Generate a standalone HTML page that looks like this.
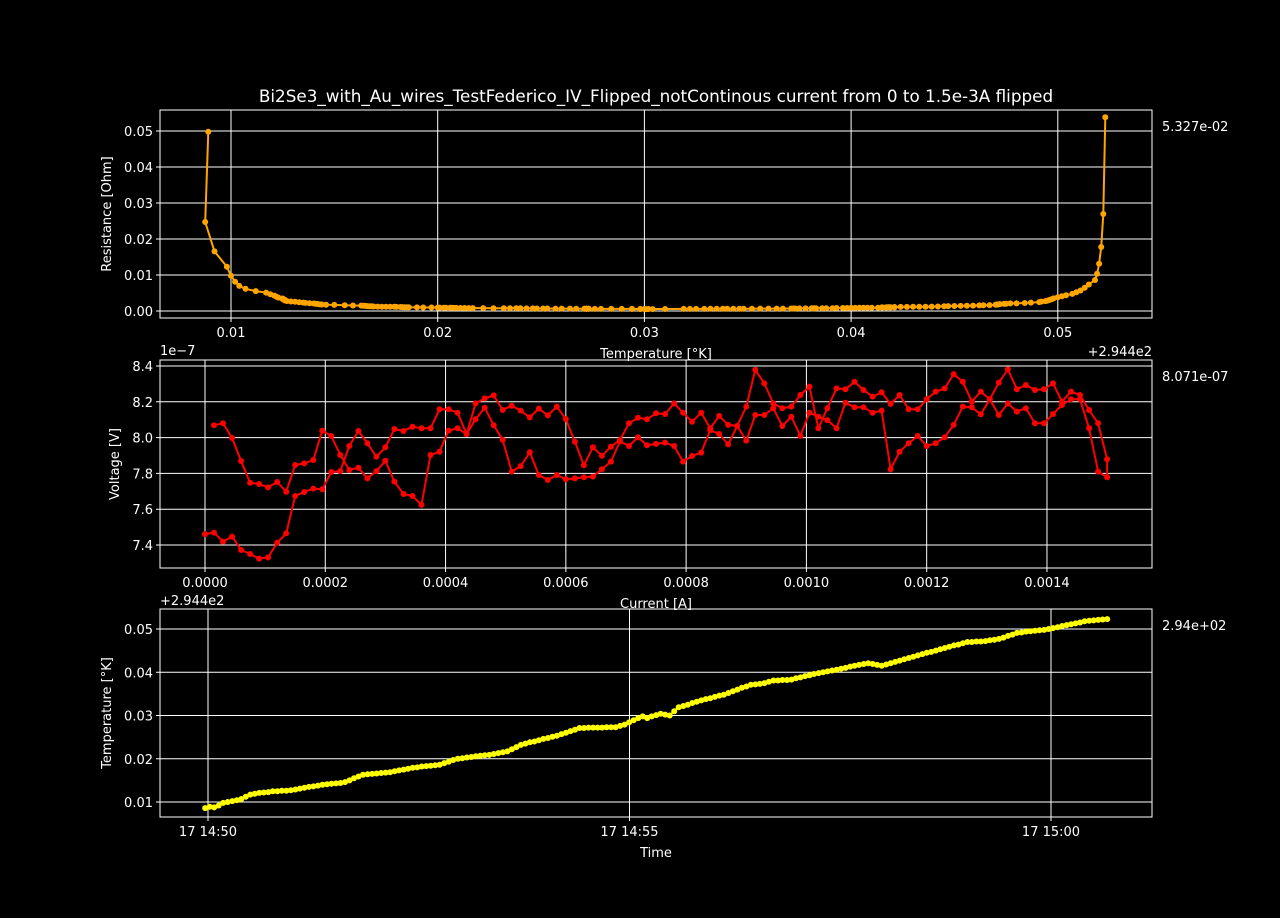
<!DOCTYPE html>
<html><head><meta charset="utf-8"><style>
html,body{margin:0;padding:0;background:#000;}
svg{display:block;font-family:"DejaVu Sans","Liberation Sans",sans-serif;}
text{fill:#fff;font-size:13px;}
</style></head><body>
<svg id="fig" width="1280" height="918" viewBox="0 0 1280 918" xmlns="http://www.w3.org/2000/svg">
<rect x="0" y="0" width="1280" height="918" fill="#000"/>
<text x="656" y="102" text-anchor="middle" style="font-size:16.8px">Bi2Se3_with_Au_wires_TestFederico_IV_Flipped_notContinous current from 0 to 1.5e-3A flipped</text>
<g id="p1"></g>
<g id="p2"></g>
<g id="p3"></g>
</svg>
<script>
// ---- data ----
const currentStep = 1.5e-5;
const voltageUp = [7.461,7.469,7.419,7.447,7.372,7.350,7.324,7.331,7.413,7.465,7.674,7.696,7.715,7.711,7.808,7.813,7.953,8.037,7.968,7.893,7.946,8.048,8.037,8.061,8.052,8.052,8.158,8.158,8.139,8.020,8.102,8.167,8.069,7.987,7.810,7.841,7.918,7.791,7.763,7.791,7.767,7.772,7.778,7.782,7.823,7.866,7.979,7.953,8.002,7.957,7.965,
7.972,7.953,7.866,7.897,7.916,8.042,8.020,7.962,8.065,7.983,8.126,8.126,8.164,8.065,8.117,8.009,8.139,8.117,8.098,8.052,8.195,8.169,8.169,8.139,8.151,7.823,7.921,7.968,8.009,7.953,7.968,8.002,8.071,8.173,8.169,8.130,8.214,8.126,8.191,8.145,8.164,8.080,8.080,8.132,8.182,8.214,8.214,8.052,7.810,7.778];
// down sweep, listed by ascending current (1.5e-5 ... 1.5e-3)
const voltageDownByCurrent = [8.069,8.080,7.998,7.869,7.748,7.741,7.722,7.752,7.698,7.847,7.856,7.875,8.039,8.009,7.903,7.819,7.832,7.772,7.813,7.871,7.754,7.685,7.674,7.624,7.903,7.921,8.039,8.052,8.020,8.191,8.219,8.236,8.154,8.178,8.151,8.113,8.162,8.124,8.173,8.104,7.977,7.845,7.946,7.899,7.949,7.987,8.080,8.111,8.102,8.136,
8.132,8.191,8.139,8.089,8.139,8.052,8.121,8.071,8.065,8.173,8.378,8.303,8.191,8.164,8.173,8.238,8.285,8.052,8.164,8.275,8.270,8.312,8.266,8.229,8.253,8.188,8.238,8.158,8.158,8.214,8.257,8.275,8.355,8.312,8.201,8.257,8.214,8.307,8.381,8.270,8.294,8.266,8.270,8.303,8.201,8.257,8.238,8.154,8.080,7.879];
// temperature offset from 294.4 K, in measurement order
const temperature = [0.0086,0.0089,0.00875,0.0092,0.0098,0.0100,0.0102,0.0104,0.0107,0.0112,0.0117,0.0119,0.0121,0.0122,0.0123,0.0125,0.0125,0.0126,0.0126,0.0127,0.0129,0.0131,0.0133,0.0135,0.0136,0.0138,0.0140,0.0141,0.0142,0.0143,0.0144,0.0146,0.0150,0.0155,0.0159,0.0163,0.0164,0.0165,0.0166,0.0167,0.0168,0.0169,0.0171,0.0173,0.0175,0.0177,0.0179,0.0180,0.0182,0.0183,0.0184,0.0185,0.0186,0.0190,0.0193,0.0197,0.0200,0.0201,0.0203,0.0204,0.0206,0.0207,0.0208,0.0209,0.0211,0.0213,0.0215,0.0217,0.0222,0.0227,0.0232,0.0235,0.0238,0.0240,0.0243,0.0246,0.0248,0.0251,0.0253,0.0257,0.0260,0.0264,0.0267,0.0271,0.0271,0.0272,0.0272,0.0272,0.0272,0.0273,0.0273,0.0273,0.0276,0.0279,0.0284,0.0289,0.0294,0.0298,0.0294,0.0298,0.0301,0.0304,0.0302,0.0300,0.0310,0.0319,0.0322,0.0325,0.0329,0.0332,0.0335,0.0338,0.0340,0.0343,0.0346,0.0348,0.0352,0.0356,0.0360,0.0364,0.0367,0.0371,0.0372,0.0373,0.0375,0.0378,0.0381,0.0381,0.0382,0.0382,0.0383,0.0386,0.0388,0.0391,0.0393,0.0396,0.0398,0.0400,0.0402,0.0404,0.0406,0.0408,0.0410,0.0413,0.0415,0.0417,0.0419,0.0421,0.0419,0.0417,0.0415,0.0418,0.0421,0.0424,0.0427,0.0430,0.0433,0.0436,0.0439,0.0442,0.0445,0.0447,0.0450,0.0453,0.0456,0.0459,0.0462,0.0464,0.0467,0.0470,0.0470,0.0471,0.0471,0.0472,0.0474,0.0475,0.0477,0.0480,0.0484,0.0487,0.0491,0.0492,0.0494,0.0495,0.0496,0.0497,0.0498,0.0500,0.0502,0.0504,0.0507,0.0509,0.0511,0.0513,0.0515,0.0518,0.0519,0.0520,0.0521,0.0522,0.0523];
const timeStartSec = -2;      // seconds relative to 14:50:00
const sampleIntervalSec = 3.21;
const rTicks = [0.00,0.01,0.02,0.03,0.04,0.05];
const tTicks = [0.01,0.02,0.03,0.04,0.05];
const vTicks = [7.4,7.6,7.8,8.0,8.2,8.4];
const iTicks = [0,0.0002,0.0004,0.0006,0.0008,0.0010,0.0012,0.0014];
const iTickLabels = ["0.0000","0.0002","0.0004","0.0006","0.0008","0.0010","0.0012","0.0014"];
const timeTicksMin = [0,5,10];
const timeTickLabels = ["17 14:50","17 14:55","17 15:00"];

// ---- scales ----
const NS = "http://www.w3.org/2000/svg";
const x1 = t => 231 + (t - 0.01) * 20670, y1 = r => 311 - r * 3600;
const x2 = i => 205 + i * 601400, y2 = v => 545 - (v - 7.4) * 179;
const x3 = s => 208 + (s / 60) * 84.3, y3 = t => 802 - (t - 0.01) * 4325;

function mk(tag, parent, attrs){const e=document.createElementNS(NS,tag);for(const k in attrs)e.setAttribute(k,attrs[k]);parent.appendChild(e);return e;}
function txt(parent,x,y,s,anchor){const e=mk('text',parent,{x:x,y:y,'text-anchor':anchor||'middle'});e.textContent=s;return e;}

function panel(g, top, bottom, xt, xs, xl, yt, ys, yl, name){
  const L=160,R=1152;
  xt.forEach((v,k)=>{const x=xs(v);
    const ln=mk('line',g,{x1:x,x2:x,y1:top,y2:bottom+4,stroke:'#fff','stroke-width':1});
    
    
    const t=txt(g,x,bottom+19,xl[k]);
    
    });
  yt.forEach((v,k)=>{const y=ys(v);
    const ln=mk('line',g,{x1:L-4,x2:R,y1:y,y2:y,stroke:'#fff','stroke-width':1});
    
    
    const t=txt(g,L-7,y+5,yl[k],'end');
    
    });
  const fr=mk('rect',g,{x:L,y:top,width:R-L,height:bottom-top,fill:'none',stroke:'#fff','stroke-width':1});
  
  
}
function series(g, pts, color, r, name){
  const d=pts.map((p,k)=>(k?'L':'M')+p[0].toFixed(1)+' '+p[1].toFixed(1)).join(' ');
  const pl=mk('path',g,{d:d,fill:'none',stroke:color,'stroke-width':2,'stroke-linejoin':'round'});
  
  
  pts.forEach(p=>{const c=mk('circle',g,{cx:p[0].toFixed(1),cy:p[1].toFixed(1),r:r,fill:color});
    
    });
}

// measurement order
const meas=[];
voltageUp.forEach((v,i)=>meas.push({I:i*currentStep,V:v}));
for(let k=voltageDownByCurrent.length-1;k>=0;k--) meas.push({I:(k+1)*currentStep,V:voltageDownByCurrent[k]});

// Panel 1
const g1=document.getElementById('p1');
panel(g1,110,318,tTicks,x1,tTicks.map(v=>v.toFixed(2)),rTicks,y1,rTicks.map(v=>v.toFixed(2)),'resistance');
const p1=[];
meas.forEach((m,k)=>{ if(m.I>0 && k<temperature.length) p1.push([x1(temperature[k]), y1(m.V*1e-7/m.I)]); });
series(g1,p1,'#ffa500',3,'resistance');
let e;
e=txt(g1,656,358,'Temperature [°K]');  
e=txt(g1,1152,356,'+2.944e2','end');  
e=txt(g1,1162,131,'5.327e-02','start');  
e=txt(g1,0,0,'Resistance [Ohm]'); e.setAttribute('transform','translate(111,214) rotate(-90)');  

// Panel 2
const g2=document.getElementById('p2');
panel(g2,360,568,iTicks,x2,iTickLabels,vTicks,y2,vTicks.map(v=>v.toFixed(1)),'voltage');
series(g2,meas.map(m=>[x2(m.I),y2(m.V)]),'#ff0000',3,'voltage');
e=txt(g2,656,608,'Current [A]');  
e=txt(g2,160,355,'1e−7','start');  
e=txt(g2,1162,381,'8.071e-07','start');  
e=txt(g2,0,0,'Voltage [V]'); e.setAttribute('transform','translate(119,464) rotate(-90)');  

// Panel 3
const g3=document.getElementById('p3');
panel(g3,609,817,timeTicksMin.map(m=>m*60),x3,timeTickLabels,tTicks,y3,tTicks.map(v=>v.toFixed(2)),'temperature');
series(g3,temperature.map((t,k)=>[x3(timeStartSec+k*sampleIntervalSec),y3(t)]),'#ffff00',3,'temperature');
e=txt(g3,656,857,'Time');  
e=txt(g3,160,605,'+2.944e2','start');  
e=txt(g3,1162,630,'2.94e+02','start');  
e=txt(g3,0,0,'Temperature [°K]'); e.setAttribute('transform','translate(111,713) rotate(-90)');  
</script>
</body></html>
